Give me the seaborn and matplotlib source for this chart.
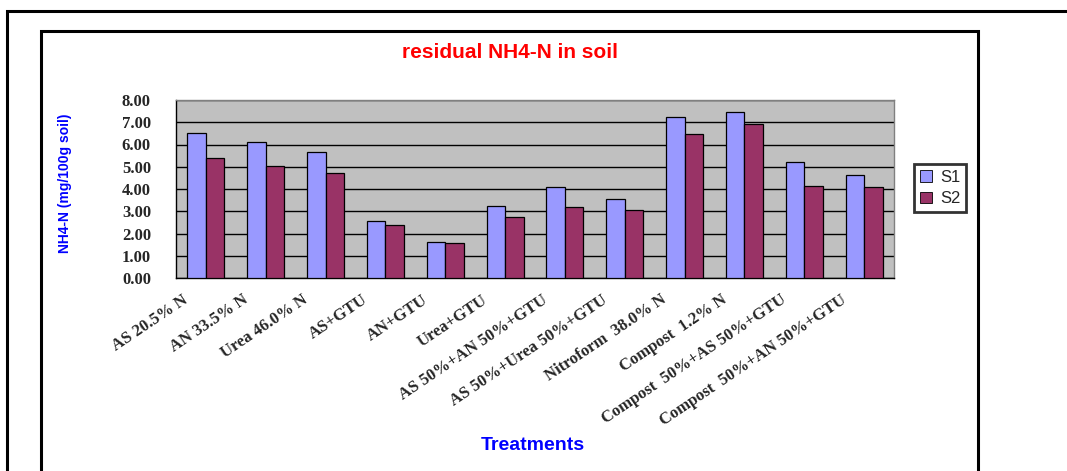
import pandas as pd
import matplotlib.pyplot as plt
import seaborn as sns
from matplotlib.patches import Rectangle

# данные
treatments = ["AS 20.5% N", "AN 33.5% N", "Urea 46.0% N", "AS+GTU", "AN+GTU",
              "Urea+GTU", "AS 50%+AN 50%+GTU", "AS 50%+Urea 50%+GTU",
              "Nitroform  38.0% N", "Compost  1.2% N",
              "Compost  50%+AS 50%+GTU", "Compost  50%+AN 50%+GTU"]
s1 = [6.50, 6.10, 5.67, 2.58, 1.62, 3.25, 4.10, 3.55, 7.22, 7.45, 5.22, 4.65]
s2 = [5.38, 5.04, 4.71, 2.40, 1.57, 2.75, 3.20, 3.04, 6.46, 6.91, 4.14, 4.10]
series = ["S1", "S2"]
yticks = [0, 1, 2, 3, 4, 5, 6, 7, 8]

df = pd.DataFrame({
    "Treatment": treatments * 2,
    "Series": ["S1"] * len(s1) + ["S2"] * len(s2),
    "Value": s1 + s2,
})

sns.set_style("white")
fig = plt.figure(figsize=(10.67, 4.71), dpi=100)
W, H = 1067, 471

# рамки как в Excel
fig.patches.append(Rectangle((7 / W, -0.1), 1.2, 1 - 11 / H + 0.1, transform=fig.transFigure,
                             fill=False, edgecolor="black", linewidth=2.2))
fig.patches.append(Rectangle((41 / W, -0.1), (978 - 41) / W, 1 - 31 / H + 0.1,
                             transform=fig.transFigure, fill=False,
                             edgecolor="black", linewidth=2.2))

ax = fig.add_axes([176 / W, 1 - 278 / H, (894 - 176) / W, (278 - 100) / H])
ax.set_facecolor("#C0C0C0")

sns.barplot(data=df, x="Treatment", y="Value", hue="Series", hue_order=series,
            palette=["#9999FF", "#993366"], width=0.62, edgecolor="black",
            linewidth=0.9, saturation=1, ax=ax, zorder=3)

ax.set_ylim(0, 8)
ax.set_xlim(-0.5, len(treatments) - 0.5)
ax.set_yticks(yticks)
ax.set_yticklabels([f"{v:.2f}" for v in yticks], fontfamily="Liberation Serif",
                   fontweight="bold", fontsize=12)
ax.yaxis.grid(True, color="black", linewidth=1.0, zorder=0)
ax.set_axisbelow(True)

# метки на границах категорий, подписи чуть левее центра (как в Excel)
ax.set_xticks([i - 0.5 for i in range(len(treatments) + 1)], minor=False)
ax.set_xticklabels([])
ax.set_xticks([i - 0.4 for i in range(len(treatments))], minor=True)
ax.set_xticklabels(treatments, minor=True, rotation=34, ha="right",
                   rotation_mode="anchor", fontfamily="Liberation Serif",
                   fontweight="bold", fontsize=12)
ax.tick_params(axis="x", which="major", length=4, width=1, direction="out")
ax.tick_params(axis="x", which="minor", length=0, pad=10)
ax.tick_params(axis="y", length=4, width=1, direction="out", pad=14)

for side in ["left", "bottom"]:
    ax.spines[side].set_color("black")
    ax.spines[side].set_linewidth(1.0)
for side in ["top", "right"]:
    ax.spines[side].set_color("#808080")
    ax.spines[side].set_linewidth(1.0)

ax.set_xlabel("")
ax.set_ylabel("")

fig.text(510 / W, 1 - 53 / H, "residual NH4-N in soil", color="red",
         fontfamily="Liberation Sans", fontweight="bold", fontsize=15,
         ha="center", va="center")
fig.text(65 / W, 1 - 183 / H, "NH4-N (mg/100g soil)", color="blue",
         fontfamily="Liberation Sans", fontweight="bold", fontsize=10,
         rotation=90, ha="center", va="center")
fig.text(533 / W, 1 - 446 / H, "Treatments", color="blue",
         fontfamily="Liberation Sans", fontweight="bold", fontsize=14,
         ha="center", va="center")

leg = ax.legend(loc="center left", bbox_to_anchor=(914 / W, 1 - 188 / H),
                bbox_transform=fig.transFigure, frameon=True, fancybox=False,
                prop={"family": "Liberation Sans", "size": 12},
                handlelength=0.7, handleheight=0.7, handletextpad=0.5,
                labelspacing=0.4, borderpad=0.35, borderaxespad=0)
leg.get_frame().set_edgecolor("black")
leg.get_frame().set_linewidth(2)
for h in leg.legend_handles:
    h.set_edgecolor("black")
    h.set_linewidth(0.6)

fig.savefig("out.png", dpi=100)
